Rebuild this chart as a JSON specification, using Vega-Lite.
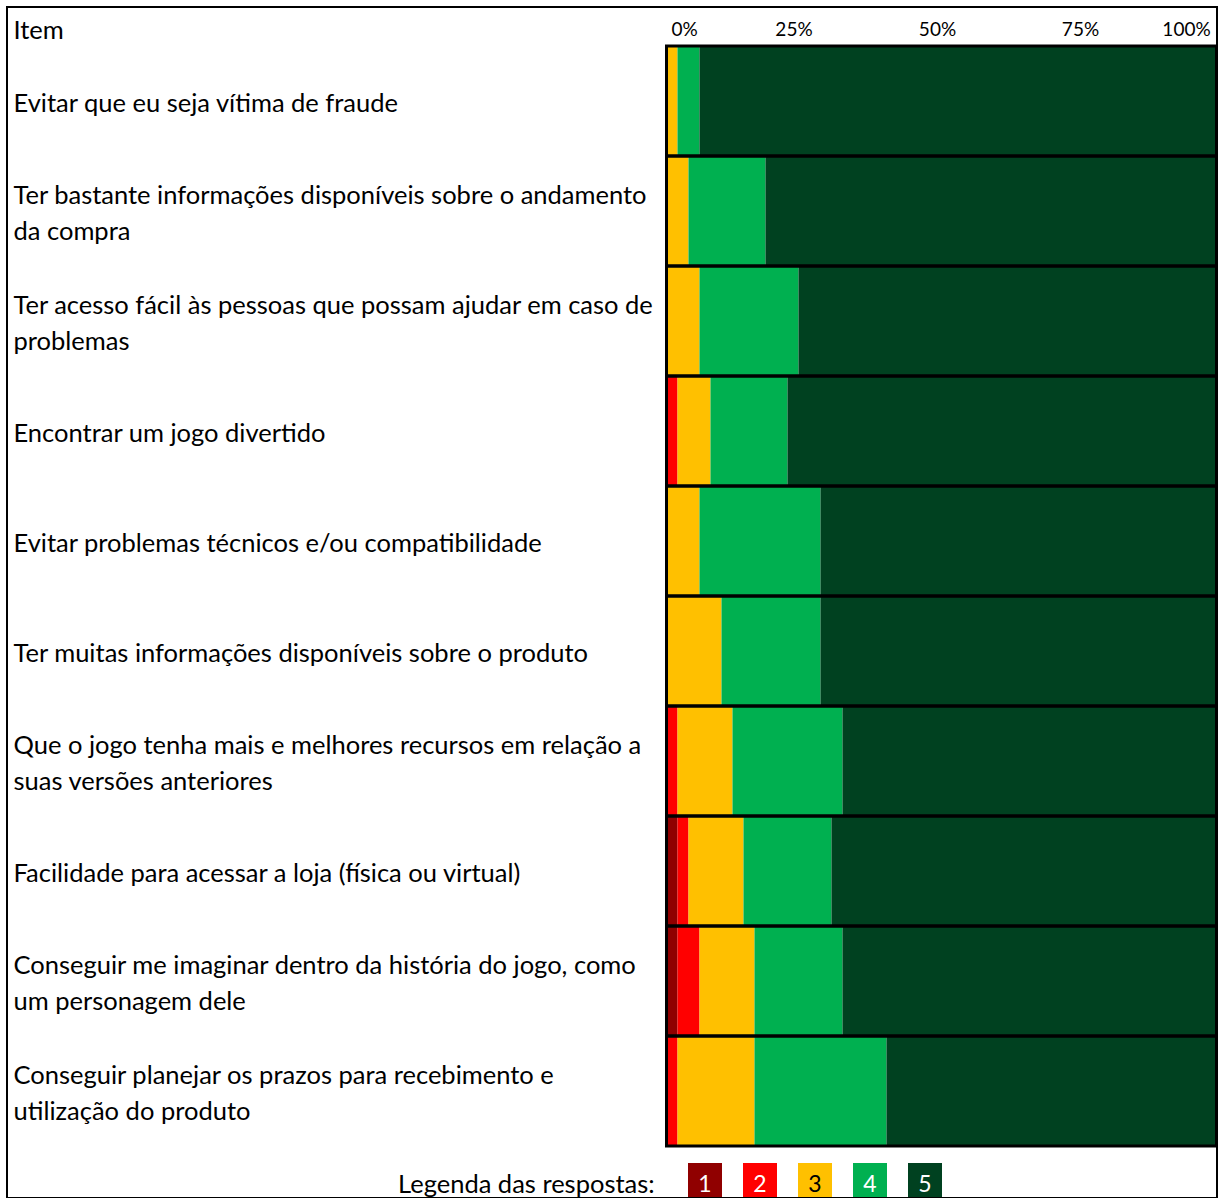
{
  "$schema": "https://vega.github.io/schema/vega-lite/v6.json",
  "autosize": "none",
  "padding": {"left": 7, "top": 7, "right": 2, "bottom": 0},
  "width": 1210,
  "height": 1191,
  "config": {
    "font": "Lato",
    "view": {"stroke": "#000000", "strokeWidth": 2},
    "background": "#ffffff"
  },
  "data": {
    "values": [
      {"item": "Evitar que eu seja vítima de fraude", "resp": "3", "pct": 2},
      {"item": "Evitar que eu seja vítima de fraude", "resp": "4", "pct": 4},
      {"item": "Evitar que eu seja vítima de fraude", "resp": "5", "pct": 94},
      {"item": "Ter bastante informações disponíveis sobre o andamento\nda compra", "resp": "3", "pct": 4},
      {"item": "Ter bastante informações disponíveis sobre o andamento\nda compra", "resp": "4", "pct": 14},
      {"item": "Ter bastante informações disponíveis sobre o andamento\nda compra", "resp": "5", "pct": 82},
      {"item": "Ter acesso fácil às pessoas que possam ajudar em caso de\nproblemas", "resp": "3", "pct": 6},
      {"item": "Ter acesso fácil às pessoas que possam ajudar em caso de\nproblemas", "resp": "4", "pct": 18},
      {"item": "Ter acesso fácil às pessoas que possam ajudar em caso de\nproblemas", "resp": "5", "pct": 76},
      {"item": "Encontrar um jogo divertido", "resp": "2", "pct": 2},
      {"item": "Encontrar um jogo divertido", "resp": "3", "pct": 6},
      {"item": "Encontrar um jogo divertido", "resp": "4", "pct": 14},
      {"item": "Encontrar um jogo divertido", "resp": "5", "pct": 78},
      {"item": "Evitar problemas técnicos e/ou compatibilidade", "resp": "3", "pct": 6},
      {"item": "Evitar problemas técnicos e/ou compatibilidade", "resp": "4", "pct": 22},
      {"item": "Evitar problemas técnicos e/ou compatibilidade", "resp": "5", "pct": 72},
      {"item": "Ter muitas informações disponíveis sobre o produto", "resp": "3", "pct": 10},
      {"item": "Ter muitas informações disponíveis sobre o produto", "resp": "4", "pct": 18},
      {"item": "Ter muitas informações disponíveis sobre o produto", "resp": "5", "pct": 72},
      {"item": "Que o jogo tenha mais e melhores recursos em relação a\nsuas versões anteriores", "resp": "2", "pct": 2},
      {"item": "Que o jogo tenha mais e melhores recursos em relação a\nsuas versões anteriores", "resp": "3", "pct": 10},
      {"item": "Que o jogo tenha mais e melhores recursos em relação a\nsuas versões anteriores", "resp": "4", "pct": 20},
      {"item": "Que o jogo tenha mais e melhores recursos em relação a\nsuas versões anteriores", "resp": "5", "pct": 68},
      {"item": "Facilidade para acessar a loja (física ou virtual)", "resp": "1", "pct": 2},
      {"item": "Facilidade para acessar a loja (física ou virtual)", "resp": "2", "pct": 2},
      {"item": "Facilidade para acessar a loja (física ou virtual)", "resp": "3", "pct": 10},
      {"item": "Facilidade para acessar a loja (física ou virtual)", "resp": "4", "pct": 16},
      {"item": "Facilidade para acessar a loja (física ou virtual)", "resp": "5", "pct": 70},
      {"item": "Conseguir me imaginar dentro da história do jogo, como\num personagem dele", "resp": "1", "pct": 2},
      {"item": "Conseguir me imaginar dentro da história do jogo, como\num personagem dele", "resp": "2", "pct": 4},
      {"item": "Conseguir me imaginar dentro da história do jogo, como\num personagem dele", "resp": "3", "pct": 10},
      {"item": "Conseguir me imaginar dentro da história do jogo, como\num personagem dele", "resp": "4", "pct": 16},
      {"item": "Conseguir me imaginar dentro da história do jogo, como\num personagem dele", "resp": "5", "pct": 68},
      {"item": "Conseguir planejar os prazos para recebimento e\nutilização do produto", "resp": "2", "pct": 2},
      {"item": "Conseguir planejar os prazos para recebimento e\nutilização do produto", "resp": "3", "pct": 14},
      {"item": "Conseguir planejar os prazos para recebimento e\nutilização do produto", "resp": "4", "pct": 24},
      {"item": "Conseguir planejar os prazos para recebimento e\nutilização do produto", "resp": "5", "pct": 60}
    ]
  },
  "layer": [
    {
      "mark": {"type": "bar"},
      "encoding": {
        "y": {
          "field": "item",
          "type": "nominal",
          "sort": null,
          "scale": {"range": [39, 1139], "paddingInner": 0, "paddingOuter": 0},
          "axis": {
            "orient": "left",
            "domain": false,
            "ticks": false,
            "tickSize": 0,
            "grid": false,
            "labelAlign": "left",
            "labelPadding": -6,
            "labelBaseline": "middle",
            "labelLineHeight": 36,
            "labelFontSize": 25.5,
            "labelLimit": 0,
            "labelColor": "#000000",
            "labelExpr": "split(datum.label, '\\n')",
            "labelOffset": {
              "condition": {"test": "indexof(datum.value, '\\n') >= 0", "value": -15},
              "value": 3
            },
            "title": "Item",
            "titleAngle": 0,
            "titleAlign": "left",
            "titleBaseline": "middle",
            "titleX": 6,
            "titleY": 23,
            "titleFontSize": 25.5,
            "titleFontWeight": "normal",
            "titleColor": "#000000"
          }
        },
        "x": {
          "field": "pct",
          "type": "quantitative",
          "stack": "zero",
          "scale": {"domain": [0, 100], "range": [659.5, 1209.5]},
          "axis": {
            "orient": "top",
            "offset": -39,
            "domain": false,
            "ticks": false,
            "tickSize": 0,
            "grid": false,
            "values": [0, 25, 50, 75, 100],
            "labelExpr": "datum.value + '%'",
            "labelFlush": false,
            "labelAlign": "center",
            "labelOffset": {
              "condition": [
                {"test": "datum.value == 0", "value": 17.5},
                {"test": "datum.value == 25", "value": -10.5},
                {"test": "datum.value == 50", "value": -4.5},
                {"test": "datum.value == 100", "value": -30.5}
              ],
              "value": 1
            },
            "labelPadding": 7,
            "labelFontSize": 19,
            "labelColor": "#000000",
            "title": null
          }
        },
        "color": {
          "field": "resp",
          "type": "nominal",
          "scale": {
            "domain": ["1", "2", "3", "4", "5"],
            "range": ["#900000", "#ff0000", "#ffc000", "#00b050", "#004120"]
          },
          "legend": {
            "orient": "none",
            "legendX": 391,
            "legendY": 1156,
            "direction": "horizontal",
            "title": "Legenda das respostas:",
            "titleOrient": "left",
            "titlePadding": 33,
            "titleAnchor": "middle",
            "titleBaseline": "middle",
            "titleFontSize": 25.5,
            "titleFontWeight": "normal",
            "titleColor": "#000000",
            "titleLimit": 0,
            "symbolType": "square",
            "symbolSize": 1156,
            "symbolStrokeWidth": 0,
            "symbolOpacity": 1,
            "labelFontSize": 23,
            "labelAlign": "center",
            "labelOffset": -17,
            "labelLimit": 0,
            "columnPadding": 21,
            "rowPadding": 0,
            "padding": 0,
            "encode": {
              "title": {"update": {"dy": {"value": 5}}},
              "labels": {
                "update": {
                  "fill": {"signal": "datum.label == '3' ? '#000000' : '#ffffff'"},
                  "dy": {"value": 5}
                }
              }
            }
          }
        },
        "order": {"field": "resp", "type": "ordinal"}
      }
    },
    {
      "transform": [{"aggregate": [{"op": "count", "as": "n"}], "groupby": ["item"]}],
      "mark": {"type": "rect", "filled": false, "stroke": "#000000", "strokeWidth": 3},
      "encoding": {
        "y": {"field": "item", "type": "nominal", "sort": null},
        "x": {"datum": 0, "type": "quantitative"},
        "x2": {"datum": 100}
      }
    }
  ]
}
